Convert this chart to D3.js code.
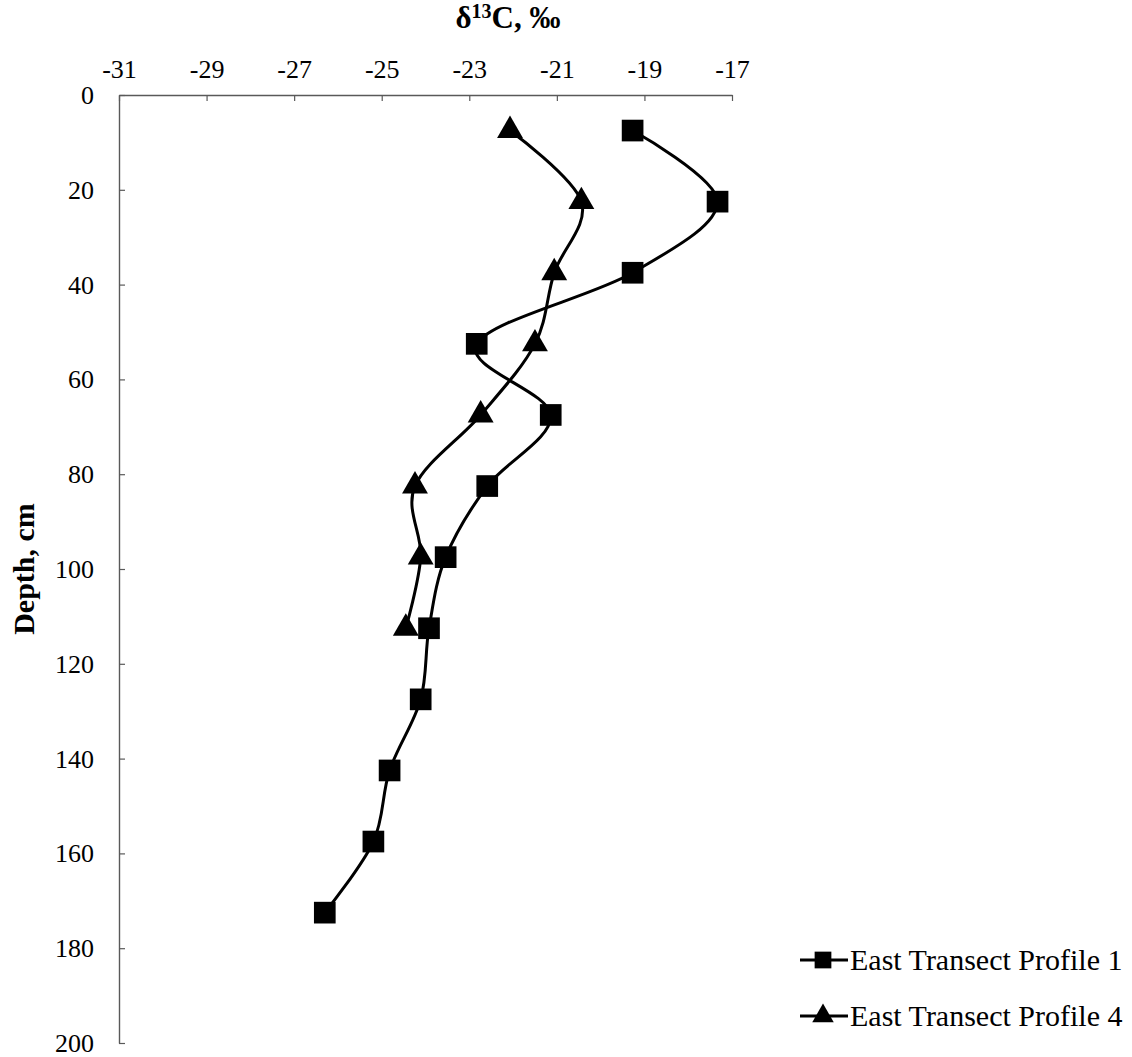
<!DOCTYPE html>
<html>
<head>
<meta charset="utf-8">
<script src="https://cdn.jsdelivr.net/npm/d3@7"></script>
<style>
  body { margin: 0; background: #fff; }
  svg text { font-family: "Liberation Serif", "Times New Roman", serif; fill: #000; }
</style>
</head>
<body>
<script>
// depth (cm) and d13C (permil)
const depth1 = [7.5, 22.5, 37.5, 52.5, 67.5, 82.5, 97.5, 112.5, 127.5, 142.5, 157.5, 172.5];
const d13c1 = [-19.27, -17.33, -19.27, -22.83, -21.14, -22.59, -23.54, -23.92, -24.11, -24.82, -25.19, -26.30];
const depth4 = [7.5, 22.5, 37.5, 52.5, 67.5, 82.5, 97.5, 112.5];
const d13c4 = [-22.07, -20.44, -21.06, -21.50, -22.74, -24.24, -24.11, -24.45];
const xTicks = [-31, -29, -27, -25, -23, -21, -19, -17];
const yTicks = [0, 20, 40, 60, 80, 100, 120, 140, 160, 180, 200];
const seriesNames = ["East Transect Profile 1", "East Transect Profile 4"];

let w = 1132;
let h = 1057;
const serif = "'Liberation Serif', 'Times New Roman', serif";

const xScale = d3.scaleLinear().domain([-31, -17]).range([119, 732]);
const yScale = d3.scaleLinear().domain([0, 200]).range([95, 1043]);

const svg = d3.select("body").append("svg")
  .attr("width", w)
  .attr("height", h);

// axes (ticks point into the plot, plain hyphen for negatives)
const xAxis = d3.axisTop(xScale)
  .tickValues(xTicks)
  .tickSizeInner(-6)
  .tickSizeOuter(0)
  .tickPadding(17)
  .tickFormat(function(d) { return String(d); });

const yAxis = d3.axisLeft(yScale)
  .tickValues(yTicks)
  .tickSizeInner(-6)
  .tickSizeOuter(0)
  .tickPadding(25)
  .tickFormat(function(d) { return String(d); });

const gx = svg.append("g")
  .attr("transform", "translate(0," + yScale(0) + ")")
  .call(xAxis);

const gy = svg.append("g")
  .attr("transform", "translate(" + xScale(-31) + ",0)")
  .call(yAxis);

[gx, gy].forEach(function(g) {
  g.attr("font-family", null).attr("font-size", null);
  g.select(".domain").attr("stroke", "#595959").attr("stroke-width", 1.4);
  g.selectAll(".tick line").attr("stroke", "#595959").attr("stroke-width", 1.2);
  g.selectAll(".tick text")
    .attr("fill", "#000")
    .style("font-family", serif)
    .style("font-size", "26px");
});
gy.selectAll(".tick text").attr("dy", "0.33em");

// axis titles
const xTitle = svg.append("text")
  .attr("x", 508)
  .attr("y", 28)
  .attr("text-anchor", "middle")
  .style("font-family", serif)
  .style("font-size", "31px")
  .style("font-weight", "bold");
xTitle.append("tspan").text("δ");
xTitle.append("tspan").attr("dy", -10).style("font-size", "20px").text("13");
xTitle.append("tspan").attr("dy", 10).text("C, ‰");

svg.append("text")
  .attr("transform", "translate(34," + ((yScale(0) + yScale(200)) / 2) + ") rotate(-90)")
  .attr("text-anchor", "middle")
  .style("font-family", serif)
  .style("font-size", "30px")
  .style("font-weight", "bold")
  .text("Depth, cm");

// smoothed lines
const line = d3.line()
  .x(function(d) { return xScale(d[0]); })
  .y(function(d) { return yScale(d[1]); })
  .curve(d3.curveCardinal.tension(0));

const pts1 = d13c1.map(function(v, i) { return [v, depth1[i]]; });
const pts4 = d13c4.map(function(v, i) { return [v, depth4[i]]; });

[pts1, pts4].forEach(function(pts) {
  svg.append("path")
    .datum(pts)
    .attr("d", line)
    .attr("fill", "none")
    .attr("stroke", "#000")
    .attr("stroke-width", 3);
});

const square = d3.symbol().type(d3.symbolSquare).size(470);
const triangle = d3.symbol().type(d3.symbolTriangle).size(290);

svg.selectAll(".sq")
  .data(pts1)
  .enter()
  .append("path")
  .attr("class", "sq")
  .attr("d", square)
  .attr("transform", function(d) { return "translate(" + xScale(d[0]) + "," + yScale(d[1]) + ")"; })
  .attr("fill", "#000");

svg.selectAll(".tri")
  .data(pts4)
  .enter()
  .append("path")
  .attr("class", "tri")
  .attr("d", triangle)
  .attr("transform", function(d) { return "translate(" + xScale(d[0]) + "," + yScale(d[1]) + ")"; })
  .attr("fill", "#000");

// legend
const legendY = [960, 1016];
const legendSym = [d3.symbol().type(d3.symbolSquare).size(280), d3.symbol().type(d3.symbolTriangle).size(200)];

seriesNames.forEach(function(name, i) {
  const row = svg.append("g").attr("transform", "translate(0," + legendY[i] + ")");
  row.append("line")
    .attr("x1", 800).attr("x2", 848)
    .attr("y1", 0).attr("y2", 0)
    .attr("stroke", "#000")
    .attr("stroke-width", 3);
  row.append("path")
    .attr("d", legendSym[i])
    .attr("transform", "translate(823,0)")
    .attr("fill", "#000");
  row.append("text")
    .attr("x", 850)
    .attr("y", 0)
    .attr("dy", "0.33em")
    .style("font-family", serif)
    .style("font-size", "30px")
    .text(name);
});
</script>
</body>
</html>
